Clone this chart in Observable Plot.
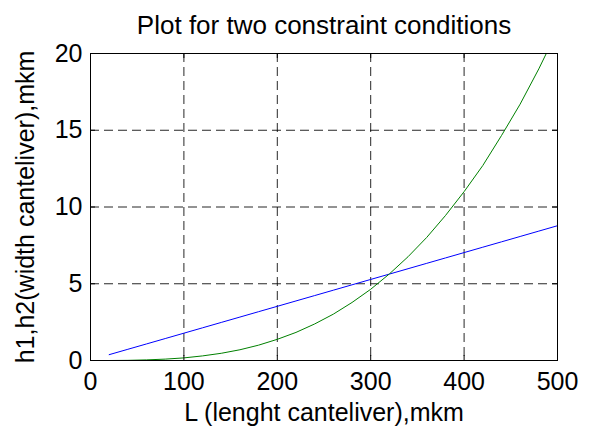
<!DOCTYPE html>
<html>
<head>
<meta charset="utf-8">
<script src="https://cdn.jsdelivr.net/npm/d3@7"></script>
<script src="https://cdn.jsdelivr.net/npm/@observablehq/plot@0.6"></script>
<style>
  html, body { margin: 0; padding: 0; background: #fff; }
</style>
</head>
<body>
<div id="chart"></div>
<script>
const titleText = "Plot for two constraint conditions";
const xLabelText = "L (lenght canteliver),mkm";
const yLabelText = "h1,h2(width canteliver),mkm";

const xTicks = [0, 100, 200, 300, 400, 500];
const yTicks = [0, 5, 10, 15, 20];

const L = [20, 40, 60, 80, 100, 120, 140, 160, 180, 200, 220, 240, 260, 280, 300,
           320, 340, 360, 380, 400, 420, 440, 460, 480, 500];
const h1 = [0.38, 0.73, 1.08, 1.43, 1.78, 2.13, 2.48, 2.83, 3.18, 3.53, 3.88, 4.23, 4.58, 4.93, 5.28,
            5.63, 5.98, 6.33, 6.68, 7.03, 7.38, 7.73, 8.08, 8.43, 8.78];
const h2 = [0.00, 0.01, 0.04, 0.09, 0.17, 0.30, 0.47, 0.70, 1.00, 1.38, 1.83, 2.38, 3.02, 3.78, 4.64,
            5.64, 6.76, 8.02, 9.44, 11.0, 12.7, 14.65, 16.7, 19.0, 21.5];

const blue = L.map((x, i) => ({x, y: h1[i]}));
const green = L.map((x, i) => ({x, y: h2[i]}));

const font = "Liberation Sans, Arial, Helvetica, sans-serif";
const fsTick = 25;
const fsLabel = 25;
const fsTitle = 26;

const chart = Plot.plot({
  width: 589,
  height: 428,
  marginLeft: 90,
  marginRight: 32,
  marginTop: 53,
  marginBottom: 68,
  style: {fontFamily: font, fontSize: fsTick + "px", background: "#fff", color: "#000", overflow: "visible"},
  x: {domain: [0, 500]},
  y: {domain: [0, 20]},
  marks: [
    Plot.gridX(xTicks, {stroke: "#000", strokeOpacity: 0.85, strokeDasharray: "9,5", strokeWidth: 1}),
    Plot.gridY(yTicks, {stroke: "#000", strokeOpacity: 0.85, strokeDasharray: "9,5", strokeWidth: 1}),
    Plot.line(blue, {x: "x", y: "y", stroke: "#0000ff", strokeWidth: 1, clip: true}),
    Plot.line(green, {x: "x", y: "y", stroke: "#008000", strokeWidth: 1, clip: true}),
    Plot.tickX(xTicks, {x: d => d, stroke: "#000", insetTop: 302}),
    Plot.tickX(xTicks, {x: d => d, stroke: "#000", insetBottom: 302}),
    Plot.tickY(yTicks, {y: d => d, stroke: "#000", insetRight: 462}),
    Plot.tickY(yTicks, {y: d => d, stroke: "#000", insetLeft: 462}),
    Plot.frame({stroke: "#000", strokeWidth: 1}),
    Plot.axisX(xTicks, {tickSize: 0, tickPadding: 12, label: null, fontSize: fsTick, fill: "#000"}),
    Plot.axisY(yTicks, {tickSize: 0, tickPadding: 8, label: null, fontSize: fsTick, fill: "#000"}),
    Plot.text([titleText], {frameAnchor: "top", lineAnchor: "middle", textAnchor: "middle", dy: -28, fontSize: fsTitle, fill: "#000"}),
    Plot.text([xLabelText], {frameAnchor: "bottom", lineAnchor: "middle", textAnchor: "middle", dy: 52, fontSize: fsLabel, fill: "#000"}),
    Plot.text([yLabelText], {frameAnchor: "left", lineAnchor: "middle", textAnchor: "middle", dx: -65, rotate: -90, fontSize: fsLabel, fill: "#000"})
  ]
});
document.getElementById("chart").appendChild(chart);
</script>
</body>
</html>
